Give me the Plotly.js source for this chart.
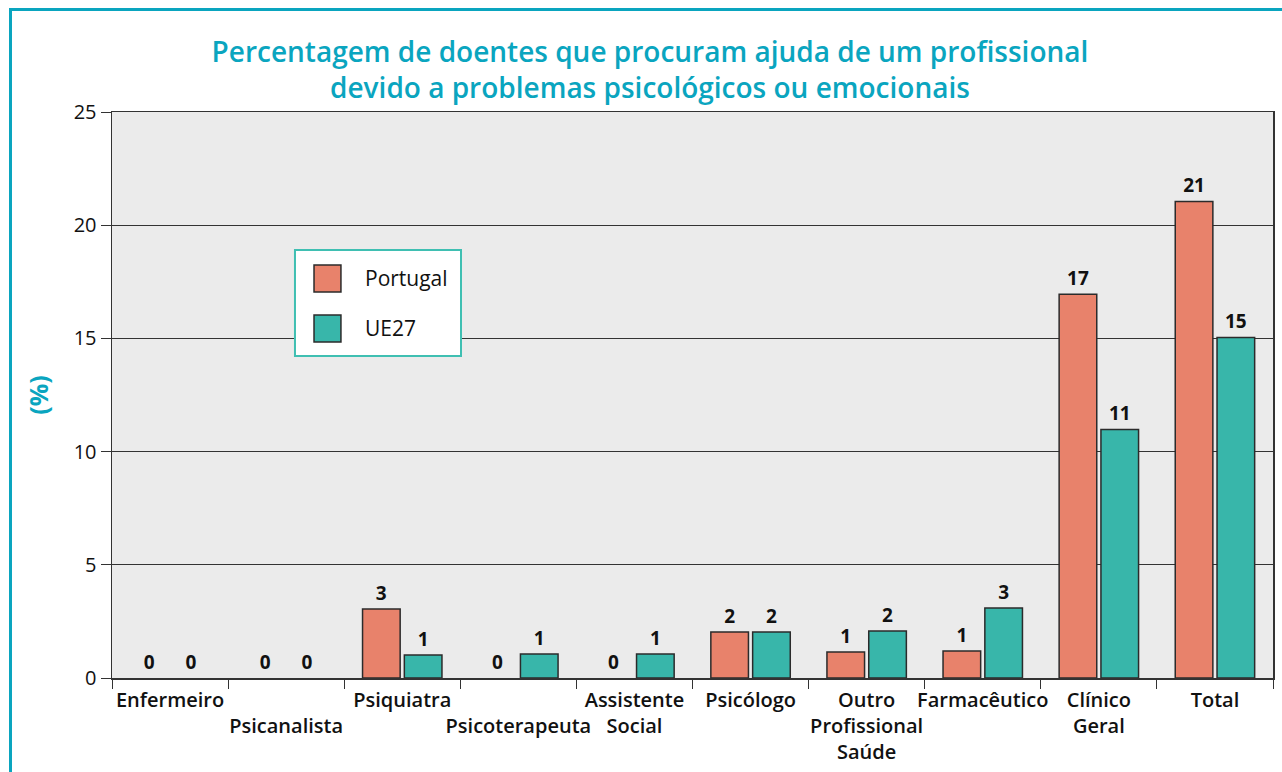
<!DOCTYPE html>
<html>
<head>
<meta charset="utf-8">
<script src="https://cdn.plot.ly/plotly-3.0.1.min.js"></script>
<style>
  html, body { margin: 0; padding: 0; background: #ffffff; }
  #wrap { position: relative; width: 1282px; height: 772px; overflow: hidden; }
  #chart { position: absolute; left: 0; top: 0; width: 1282px; height: 772px; }
  #frame { position: absolute; left: 9px; top: 8px; width: 1400px; height: 900px;
           border-top: 3px solid #0aa5bf; border-left: 3px solid #0aa5bf; pointer-events: none; }
</style>
</head>
<body>
<div id="wrap">
  <div id="chart"></div>
  <div id="frame"></div>
</div>
<script>
// ---- data ----
const categories = ['Enfermeiro', 'Psicanalista', 'Psiquiatra', 'Psicoterapeuta', 'Assistente Social',
                    'Psicólogo', 'Outro Profissional Saúde', 'Farmacêutico', 'Clínico Geral', 'Total'];
const tickLabels = ['Enfermeiro', '<br>Psicanalista', 'Psiquiatra', '<br>Psicoterapeuta', 'Assistente<br>Social',
                    'Psicólogo', 'Outro<br>Profissional<br>Saúde', 'Farmacêutico', 'Clínico<br>Geral', 'Total'];
const seriesNames = ['Portugal', 'UE27'];
const portugal = [0, 0, 3.05, 0, 0, 2.03, 1.15, 1.19, 16.95, 21.05];
const ue27     = [0, 0, 1.02, 1.06, 1.06, 2.03, 2.08, 3.09, 10.98, 15.04];

const colors = ['#e8826b', '#38b6aa'];
const teal = '#0aa5bf';
const font = 'Open Sans, Noto Sans, sans-serif';

function barTrace(name, values, color) {
  return {
    type: 'bar', name: name, x: categories, y: values,
    marker: { color: color, line: { color: '#2b2b2b', width: values.map(v => v > 0 ? 1.5 : 0) } },
    texttemplate: '%{y:.0f}', textposition: 'outside', cliponaxis: false,
    textfont: { family: font, size: 19, color: '#111', weight: 700 },
    hoverinfo: 'x+y'
  };
}

const data = [
  barTrace(seriesNames[0], portugal, colors[0]),
  barTrace(seriesNames[1], ue27, colors[1])
];

// legend geometry (paper coordinates)
const lg = { x0: 0.1576, x1: 0.3006, y0: 0.5689, y1: 0.7562 };
const sq = [{ y0: 0.682, y1: 0.7297 }, { y0: 0.5936, y1: 0.6413 }];
const sqx = { x0: 0.1740, x1: 0.1972 };
const txtY = [0.7067, 0.6184];

const shapes = [
  { type: 'rect', xref: 'paper', yref: 'paper', x0: lg.x0, x1: lg.x1, y0: lg.y0, y1: lg.y1,
    fillcolor: '#ffffff', line: { color: '#3fbfb2', width: 2 }, layer: 'above' }
];
const annotations = [];
seriesNames.forEach((n, i) => {
  shapes.push({ type: 'rect', xref: 'paper', yref: 'paper', x0: sqx.x0, x1: sqx.x1, y0: sq[i].y0, y1: sq[i].y1,
                fillcolor: colors[i], line: { color: '#2b2b2b', width: 1.5 }, layer: 'above' });
  annotations.push({ xref: 'paper', yref: 'paper', x: 0.2162, y: txtY[i], xanchor: 'left', yanchor: 'middle',
                     text: n, showarrow: false, font: { family: font, size: 21, color: '#111' } });
});

const layout = {
  width: 1282, height: 772,
  margin: { l: 112, r: 9, t: 112, b: 94 },
  paper_bgcolor: '#ffffff', plot_bgcolor: '#ebebeb',
  showlegend: false,
  barmode: 'group', bargap: 0.28, bargroupgap: 0.1,
  font: { family: font, color: '#111' },
  title: {
    text: 'Percentagem de doentes que procuram ajuda de um profissional<br>devido a problemas psicológicos ou emocionais',
    font: { family: font, size: 28, color: teal, weight: 600 },
    xref: 'container', x: 0.507, xanchor: 'center',
    yref: 'container', y: 0.92, yanchor: 'middle'
  },
  xaxis: {
    type: 'category', tickmode: 'array', tickvals: categories, ticktext: tickLabels,
    tickangle: 0, ticklabelstandoff: 3,
    tickson: 'boundaries', ticks: 'outside', ticklen: 9, tickcolor: '#333', tickwidth: 1,
    showline: true, linecolor: '#333', linewidth: 1.5, mirror: true,
    showgrid: false, tickfont: { family: font, size: 20, color: '#111', weight: 600 }, automargin: false
  },
  yaxis: {
    range: [0, 25], dtick: 5, tick0: 0,
    ticks: 'outside', ticklen: 10, tickcolor: '#333', tickwidth: 1,
    showline: true, linecolor: '#333', linewidth: 1.5, mirror: true,
    showgrid: true, gridcolor: '#333', gridwidth: 1, zeroline: false,
    tickfont: { family: font, size: 20, color: '#111' },
    title: { text: '(%)', font: { family: font, size: 25, color: teal, weight: 700 }, standoff: 18 },
    automargin: false
  },
  shapes: shapes,
  annotations: annotations
};

Plotly.newPlot('chart', data, layout, { displayModeBar: false, staticPlot: true });
</script>
</body>
</html>
